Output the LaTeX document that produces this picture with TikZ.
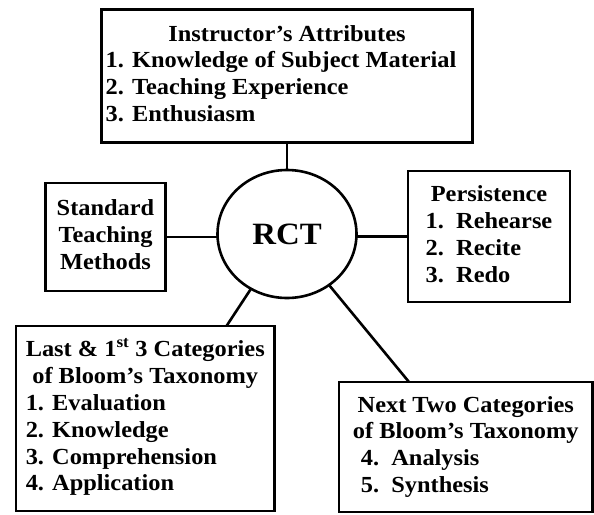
\documentclass[tikz,border=0pt]{standalone}
\usepackage{fontspec}
\setmainfont{Liberation Serif}[FakeStretch=1.06]
\usetikzlibrary{shapes.geometric}
\begin{document}
\begin{tikzpicture}[x=1pt,y=-1pt,
  box/.style={draw,line width=2.6pt,rectangle,inner sep=0pt,outer sep=0pt,
    font=\fontsize{23}{26.8}\selectfont\bfseries,anchor=north west},
  hub/.style={draw,ellipse,line width=2.6pt,inner sep=0pt,outer sep=0pt,
    minimum width=139pt,minimum height=128pt,font=\fontsize{31}{38}\selectfont\bfseries},
  link/.style={line width=2.6pt}]
\useasboundingbox (0,0) rectangle (594,514);

\node[box,minimum width=371pt,minimum height=133pt] (top) at (101.5,9.5)
 {\begin{tabular}{@{}l@{}}\multicolumn{1}{@{}c@{}}{Instructor’s Attributes}\\
  1. Knowledge of Subject Material\hspace*{12pt}\\ 2. Teaching Experience\\ 3. Enthusiasm\end{tabular}};

\node[hub] (c) at (287,234) {RCT};

\node[box,minimum width=120pt,minimum height=108pt] (std) at (45.5,183)
 {\begin{tabular}{@{}c@{}}Standard\\ Teaching\\ Methods\end{tabular}};

\node[box,minimum width=162pt,minimum height=131pt] (per) at (408,171)
 {\begin{tabular}{@{}l@{}}\multicolumn{1}{@{}c@{}}{Persistence}\\
  1.\ \ Rehearse\\ 2.\ \ Recite\\ 3.\ \ Redo\end{tabular}};

\node[box,minimum width=258.5pt,minimum height=185pt] (bl) at (16,326)
 {\begin{tabular}{@{}l@{}}\multicolumn{1}{@{}c@{}}{Last \& 1\textsuperscript{st} 3 Categories}\\
  \multicolumn{1}{@{}c@{}}{of Bloom’s Taxonomy}\\
  1. Evaluation\\ 2. Knowledge\\ 3. Comprehension\\ 4. Application\end{tabular}};

\node[box,minimum width=253.5pt,minimum height=130pt] (br) at (339,382)
 {\begin{tabular}{@{}l@{}}\multicolumn{1}{@{}c@{}}{Next Two Categories}\\
  \multicolumn{1}{@{}c@{}}{of Bloom’s Taxonomy}\\
  \hspace{8pt}4.\ \ Analysis\\ \hspace{8pt}5.\ \ Synthesis\end{tabular}};

\coordinate (blj) at ([xshift=210.5pt]bl.north west);
\coordinate (brj) at ([xshift=70pt]br.north west);

\draw[link] (top.south) -- (c.north);
\draw[link] (std.east) -- (std.east -| c.west);
\draw[link] (per.west) -- (per.west -| c.east);
\draw[link] (blj) -- (c);
\draw[link] (brj) -- (c);
\end{tikzpicture}
\end{document}
